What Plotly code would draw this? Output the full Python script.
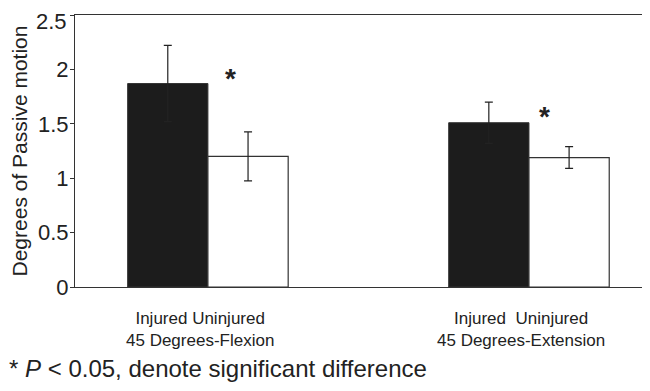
import plotly.graph_objects as go

groups = ["45 Degrees-Flexion", "45 Degrees-Extension"]
injured_mean = [1.87, 1.51]
injured_sd = [0.35, 0.19]
uninjured_mean = [1.20, 1.19]
uninjured_sd = [0.225, 0.10]
ytick_vals = [0, 0.5, 1, 1.5, 2, 2.5]
ytick_text = ["0", "0.5", "1", "1.5", "2", "2.5"]
group_labels = ["Injured Uninjured<br>45 Degrees-Flexion", "Injured  Uninjured<br>45 Degrees-Extension"]
star_groups = [0, 1]
footnote = "* <i>P</i> < 0.05, denote significant difference"

FONT = "Liberation Sans, Arial, sans-serif"
INK = "#222222"

fig = go.Figure()
fig.add_trace(go.Bar(
    name="Injured", x=groups, y=injured_mean,
    marker=dict(color="#1c1c1c", line=dict(color="#333333", width=1)),
    error_y=dict(type="data", array=injured_sd, visible=True, color="#222222", thickness=1.2, width=4),
))
fig.add_trace(go.Bar(
    name="Uninjured", x=groups, y=uninjured_mean,
    marker=dict(color="white", line=dict(color="#333333", width=1.2)),
    error_y=dict(type="data", array=uninjured_sd, visible=True, color="#222222", thickness=1.2, width=4),
))

# significance stars
star_pos = [(0.07, 1.915), (1.047, 1.565)]
for g, (sx, sy) in zip(star_groups, star_pos):
    fig.add_annotation(x=sx, y=sy, xref="x", yref="y", text="<b>*</b>", showarrow=False,
                       font=dict(family=FONT, size=28, color=INK), xanchor="center", yanchor="middle")

# group labels
label_x = [-0.025, 0.975]
for lx, lab in zip(label_x, group_labels):
    fig.add_annotation(x=lx, y=-0.1565, xref="x", yref="paper", text=lab, showarrow=False,
                       font=dict(family=FONT, size=17, color=INK), xanchor="center", yanchor="middle",
                       align="center")

fig.add_annotation(x=-0.118, y=-0.30, xref="paper", yref="paper", text=footnote, showarrow=False,
                   font=dict(family=FONT, size=24, color=INK), xanchor="left", yanchor="middle")

# top tick label drawn slightly below its tick, as in the reference
fig.add_annotation(x=0, y=ytick_vals[-1], xref="paper", yref="y", text=ytick_text[-1], showarrow=False,
                   font=dict(family=FONT, size=22, color=INK), xanchor="right", yanchor="middle",
                   xshift=-6, yshift=-6)

fig.update_layout(
    width=650, height=391,
    margin=dict(l=67, r=8, t=7, b=112),
    paper_bgcolor="white", plot_bgcolor="white",
    barmode="group", bargap=0.5, bargroupgap=0,
    showlegend=False,
    font=dict(family=FONT, color=INK),
)
fig.update_xaxes(range=[-0.414, 1.377], showticklabels=False, ticks="",
                 showline=True, linecolor="#333333", linewidth=1.2, mirror=True, showgrid=False)
fig.update_yaxes(range=[0, 2.5], tickvals=ytick_vals, ticktext=ytick_text[:-1] + [""],
                 ticks="outside", ticklen=4, tickcolor="#333333", ticklabelstandoff=-3,
                 showline=True, linecolor="#333333", linewidth=1.2, showgrid=False, zeroline=False,
                 tickfont=dict(family=FONT, size=22, color=INK),
                 title=dict(text="Degrees of Passive motion", font=dict(family=FONT, size=21, color=INK), standoff=6))

fig.write_html("out.html")
